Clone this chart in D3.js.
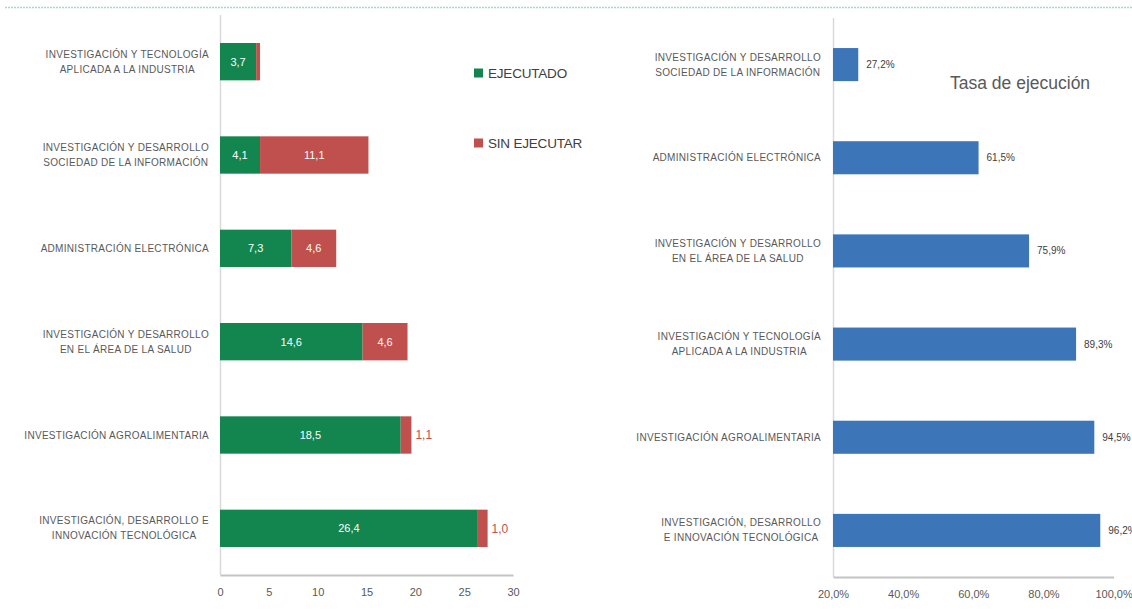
<!DOCTYPE html>
<html><head><meta charset="utf-8">
<script src="https://cdn.jsdelivr.net/npm/d3@7"></script>
<style>
html,body{margin:0;padding:0;background:#fff;}
svg{display:block;font-family:"Liberation Sans",Arial,sans-serif;}
</style></head>
<body><svg id="c" width="1132" height="614"></svg>
<script>
// ---- Data ----
const leftCategories = [
  ["INVESTIGACIÓN Y TECNOLOGÍA","APLICADA A LA INDUSTRIA"],
  ["INVESTIGACIÓN Y DESARROLLO","SOCIEDAD DE LA INFORMACIÓN"],
  ["ADMINISTRACIÓN ELECTRÓNICA"],
  ["INVESTIGACIÓN Y DESARROLLO","EN EL ÁREA DE LA SALUD"],
  ["INVESTIGACIÓN AGROALIMENTARIA"],
  ["INVESTIGACIÓN, DESARROLLO E","INNOVACIÓN TECNOLÓGICA"]
];
const ejecutado = [3.7, 4.1, 7.3, 14.6, 18.5, 26.4];
const sinEjecutar = [0.4, 11.1, 4.6, 4.6, 1.1, 1.0];
const sinEjecutarLabels = [null, "11,1", "4,6", "4,6", "1,1", "1,0"];
const leftTicks = [0, 5, 10, 15, 20, 25, 30];
const seriesNames = ["EJECUTADO", "SIN EJECUTAR"];

const rightCategories = [
  ["INVESTIGACIÓN Y DESARROLLO","SOCIEDAD DE LA INFORMACIÓN"],
  ["ADMINISTRACIÓN ELECTRÓNICA"],
  ["INVESTIGACIÓN Y DESARROLLO","EN EL ÁREA DE LA SALUD"],
  ["INVESTIGACIÓN Y TECNOLOGÍA","APLICADA A LA INDUSTRIA"],
  ["INVESTIGACIÓN AGROALIMENTARIA"],
  ["INVESTIGACIÓN, DESARROLLO","E INNOVACIÓN TECNOLÓGICA"]
];
const tasa = [27.2, 61.5, 75.9, 89.3, 94.5, 96.2];
const rightTicks = [20, 40, 60, 80, 100];
const rightTitle = "Tasa de ejecución";

// ---- Styles ----
const GREEN = "#13864f", RED = "#c0504d", BLUE = "#3c76b8";
const LABEL_COL = "#595959", TEXT_COL = "#404040";
const fmt = v => d3.format(".1f")(v).replace(".", ",");

const svg = d3.select("#c");

// top dashed line
svg.append("line").attr("x1", 5).attr("x2", 1132).attr("y1", 7.5).attr("y2", 7.5)
  .attr("stroke", "#a9d9c2").attr("stroke-width", 1.5).attr("stroke-dasharray", "2,1");

function catLabels(g, cats, y, rightEdge) {
  cats.forEach((lines, i) => {
    const grp = g.append("g");
    const cy = y(i) + y.bandwidth() / 2;
    const lh = 15;
    const texts = lines.map((ln, j) => grp.append("text")
      .attr("y", cy + (j - (lines.length - 1) / 2) * lh)
      .attr("dy", "0.35em")
      .attr("font-size", 10).attr("letter-spacing", 0.3)
      .attr("fill", LABEL_COL).attr("text-anchor", "middle").text(ln));
    const maxW = d3.max(texts, t => t.node().getComputedTextLength());
    texts.forEach(t => t.attr("x", rightEdge - maxW / 2));
  });
}

// ---- Left chart ----
const xL = d3.scaleLinear().domain([0, 30]).range([220, 513]);
const yL = d3.scaleBand().domain(d3.range(leftCategories.length)).range([15, 575])
  .paddingInner(0.6).paddingOuter(0.3);
const gL = svg.append("g");

gL.append("line").attr("x1", 220.5).attr("x2", 220.5).attr("y1", 15).attr("y2", 575)
  .attr("stroke", "#d9d9d9").attr("stroke-width", 1.5);

gL.selectAll("rect.e").data(ejecutado).join("rect").attr("class", "e")
  .attr("x", xL(0)).attr("y", (d, i) => yL(i))
  .attr("width", d => xL(d) - xL(0)).attr("height", yL.bandwidth()).attr("fill", GREEN);
gL.selectAll("rect.s").data(sinEjecutar).join("rect").attr("class", "s")
  .attr("x", (d, i) => xL(ejecutado[i])).attr("y", (d, i) => yL(i))
  .attr("width", d => xL(d) - xL(0)).attr("height", yL.bandwidth()).attr("fill", RED);

gL.selectAll("text.el").data(ejecutado).join("text").attr("class", "el")
  .attr("x", d => xL(d / 2)).attr("y", (d, i) => yL(i) + yL.bandwidth() / 2)
  .attr("dy", "0.35em").attr("text-anchor", "middle").attr("font-size", 11)
  .attr("fill", "#fff").text(d => fmt(d));

sinEjecutar.forEach((d, i) => {
  if (!sinEjecutarLabels[i]) return;
  const inside = d >= 2;
  gL.append("text")
    .attr("x", inside ? xL(ejecutado[i] + d / 2) : xL(ejecutado[i] + d) + 4)
    .attr("y", yL(i) + yL.bandwidth() / 2).attr("dy", "0.35em")
    .attr("text-anchor", inside ? "middle" : "start")
    .attr("font-size", inside ? 11 : 12)
    .attr("fill", inside ? "#fff" : RED).text(sinEjecutarLabels[i]);
});

const axL = gL.append("g").attr("transform", "translate(0,575)")
  .call(d3.axisBottom(xL).tickValues(leftTicks).tickSize(0).tickPadding(13).tickFormat(d3.format("d")));
axL.select(".domain").attr("stroke", "#c4c4c4").attr("stroke-width", 2);
axL.selectAll("text").attr("font-size", 11).attr("fill", LABEL_COL).attr("font-family", "Liberation Sans, Arial, sans-serif");

catLabels(gL, leftCategories, yL, 209);

// legend
const legY = [73, 143];
seriesNames.forEach((n, i) => {
  gL.append("rect").attr("x", 474).attr("y", legY[i] - 4.5).attr("width", 9).attr("height", 9)
    .attr("fill", i === 0 ? GREEN : RED);
  gL.append("text").attr("x", 488).attr("y", legY[i]).attr("dy", "0.35em")
    .attr("font-size", 13.5).attr("letter-spacing", -0.2).attr("fill", TEXT_COL).text(n);
});

// ---- Right chart ----
const xR = d3.scaleLinear().domain([20, 100]).range([833, 1113.6]);
const yR = d3.scaleBand().domain(d3.range(rightCategories.length)).range([18, 577])
  .paddingInner(0.645).paddingOuter(0.3225);
const gR = svg.append("g");

gR.append("line").attr("x1", 833.5).attr("x2", 833.5).attr("y1", 18).attr("y2", 577)
  .attr("stroke", "#d9d9d9").attr("stroke-width", 1.5);

gR.selectAll("rect").data(tasa).join("rect")
  .attr("x", xR(20)).attr("y", (d, i) => yR(i))
  .attr("width", d => xR(d) - xR(20)).attr("height", yR.bandwidth()).attr("fill", BLUE);

gR.selectAll("text.v").data(tasa).join("text").attr("class", "v")
  .attr("x", d => xR(d) + 8).attr("y", (d, i) => yR(i) + yR.bandwidth() / 2)
  .attr("dy", "0.35em").attr("font-size", 10).attr("fill", TEXT_COL)
  .text(d => fmt(d) + "%");

const axR = gR.append("g").attr("transform", "translate(0,577)")
  .call(d3.axisBottom(xR).tickValues(rightTicks).tickSize(0).tickPadding(13)
    .tickFormat(d => fmt(d) + "%"));
axR.select(".domain").attr("stroke", "#c4c4c4").attr("stroke-width", 2);
axR.selectAll("text").attr("font-size", 11).attr("fill", LABEL_COL).attr("font-family", "Liberation Sans, Arial, sans-serif");

catLabels(gR, rightCategories, yR, 821);

gR.append("text").attr("x", 950).attr("y", 89).attr("font-size", 17.5)
  .attr("fill", LABEL_COL).text(rightTitle);
</script></body></html>
